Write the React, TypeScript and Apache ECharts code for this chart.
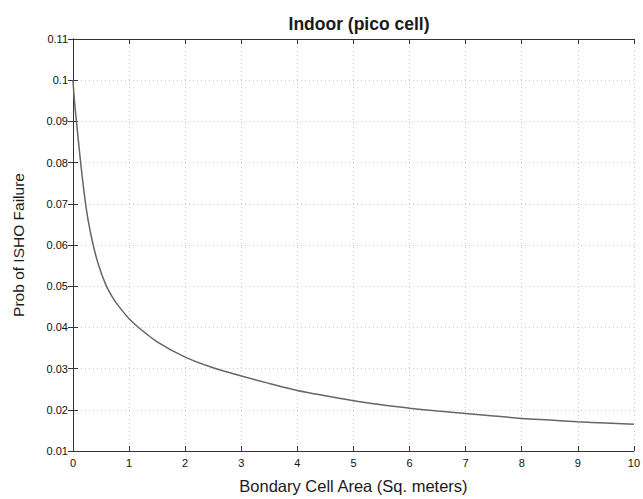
import React, { useEffect, useRef } from "react";
import * as echarts from "echarts";

const titleText = "Indoor (pico cell)";
const xName = "Bondary Cell Area (Sq. meters)";
const yName = "Prob of ISHO Failure";

const xValues = [0, 0.02, 0.05, 0.08, 0.14, 0.21, 0.27, 0.36, 0.45, 0.58, 0.7, 0.8, 1.0, 1.16, 1.5, 2.0, 2.5, 3.0, 3.5, 4.0, 4.5, 5.0, 5.5, 6.0, 6.5, 7.0, 7.5, 8.0, 8.5, 9.0, 9.5, 10];
const yValues = [0.1, 0.096, 0.0915, 0.0875, 0.0795, 0.0715, 0.066, 0.06, 0.0554, 0.0505, 0.0474, 0.0454, 0.0421, 0.0401, 0.0365, 0.0328, 0.0302, 0.0282, 0.0264, 0.0247, 0.0234, 0.0222, 0.0212, 0.0204, 0.0197, 0.0191, 0.0185, 0.0179, 0.0175, 0.0171, 0.0168, 0.0165];

const FONT = "Liberation Sans, Arial, sans-serif";

export default function App() {
  const ref = useRef<HTMLDivElement>(null);
  useEffect(() => {
    if (!ref.current) return;
    const chart = echarts.init(ref.current, undefined, { renderer: "svg" });
    const axisLine = { show: true, lineStyle: { color: "#333", width: 1 } };
    const tick = { show: true, inside: true, length: 5, lineStyle: { color: "#333" } };
    const split = { show: true, lineStyle: { color: "#cccccc", type: [1, 3] as any, width: 1 } };
    chart.setOption({
      animation: false,
      backgroundColor: "#ffffff",
      title: {
        text: titleText,
        left: 354,
        top: 10,
        textAlign: "center",
        textStyle: { fontFamily: FONT, fontSize: 17.5, fontWeight: "bold", color: "#1a1a1a" },
      },
      grid: { left: 73, right: 5, top: 39, bottom: 43, containLabel: false },
      xAxis: [
        {
          type: "value",
          min: 0,
          max: 10,
          interval: 1,
          axisLine,
          axisTick: tick,
          splitLine: split,
          axisLabel: { fontFamily: FONT, fontSize: 11, color: "#111", margin: 6 },
          name: xName,
          nameLocation: "middle",
          nameGap: 26,
          nameTextStyle: { fontFamily: FONT, fontSize: 16.5, color: "#1a1a1a" },
        },
        {
          type: "value",
          position: "top",
          min: 0,
          max: 10,
          interval: 1,
          axisLine,
          axisTick: tick,
          splitLine: { show: false },
          axisLabel: { show: false },
        },
      ],
      yAxis: [
        {
          type: "value",
          min: 0.01,
          max: 0.11,
          interval: 0.01,
          axisLine,
          axisTick: tick,
          splitLine: split,
          axisLabel: { fontFamily: FONT, fontSize: 11, color: "#111", margin: 5 },
          name: yName,
          nameLocation: "middle",
          nameGap: 47,
          nameTextStyle: { fontFamily: FONT, fontSize: 15.5, color: "#1a1a1a" },
        },
        {
          type: "value",
          position: "right",
          min: 0.01,
          max: 0.11,
          interval: 0.01,
          axisLine,
          axisTick: tick,
          splitLine: { show: false },
          axisLabel: { show: false },
        },
      ],
      series: [
        {
          type: "line",
          data: xValues.map((x, i) => [x, yValues[i]]),
          showSymbol: false,
          smooth: 0.35,
          lineStyle: { color: "#666", width: 1.5 },
        },
      ],
    });
    return () => chart.dispose();
  }, []);
  return (
    <div
      ref={ref}
      style={{ position: "fixed", left: 0, top: 0, width: 643, height: 499 }}
    />
  );
}
